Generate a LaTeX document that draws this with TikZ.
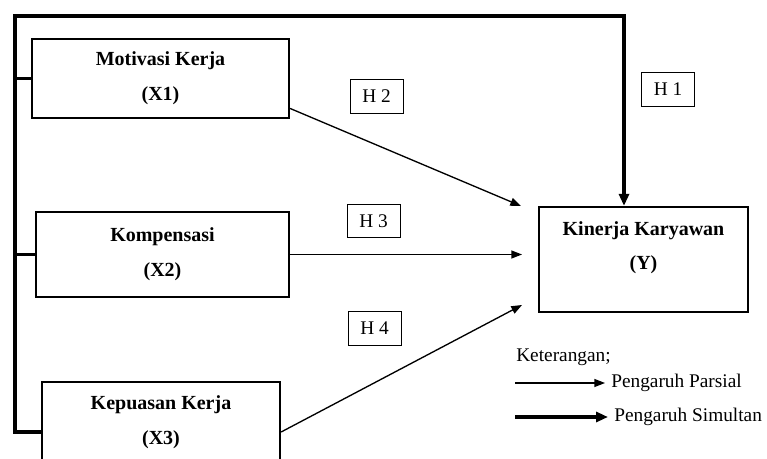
\documentclass[tikz,border=0pt]{standalone}
\usepackage{fontspec}
\setmainfont{Liberation Serif}
\usetikzlibrary{arrows.meta}

\begin{document}
\begin{tikzpicture}[x=0.75pt, y=-0.75pt,
    varbox/.style={draw, line width=1.7pt, align=center, inner sep=0pt,
      font=\fontsize{15}{26}\selectfont\bfseries},
    hbox/.style={draw, line width=0.7pt, minimum width=39.75pt,
      minimum height=25pt, inner sep=0pt, font=\fontsize{14.5}{16}\selectfont},
    legtext/.style={anchor=west, inner sep=4.5pt, font=\fontsize{14.5}{16}\selectfont},
    parsial/.style={line width=1pt, -{Triangle[length=8pt,width=6pt]}},
    simultan/.style={line width=2.4pt, -{Triangle[length=9pt,width=7.5pt]}}]
      \useasboundingbox (0,0) rectangle (767,459);

      % variables
      \node[varbox, minimum width=192.75pt, minimum height=59.25pt] (x1) at (160.5,78.5) {Motivasi Kerja\\(X1)};
      \node[varbox, minimum width=189.75pt, minimum height=63.75pt] (x2) at (162.5,254.5) {Kompensasi\\(X2)};
      \node[varbox, minimum width=178.5pt, minimum height=60pt] (x3) at (161,422) {Kepuasan Kerja\\(X3)};
      \node[varbox, minimum width=156.75pt, minimum height=78.75pt] (y) at (643.5,259.5) {Kinerja Karyawan\\(Y)\\[-5pt]\mbox{}};

      % hypotheses
      \foreach \n/\x/\y in {1/668/89.5, 2/376.5/96.5, 3/373.5/221, 4/374.5/328.5}{
        \node[hbox] (h\n) at (\x,\y) {H \n};
      }

      % partial arrows
      \coordinate (t1) at (521,206);
      \coordinate (t2) at (522,254.5);
      \coordinate (t3) at (522,305);
      \draw[parsial] ([yshift=8pt]x1.south east) -- (t1);
      \draw[parsial] (x2.east) -- (t2);
      \draw[parsial] ([yshift=-7.5pt]x3.east) -- (t3);

      % simultaneous arrow
      \coordinate (corner) at (15,16);
      \coordinate (foot) at (15,432);
      \coordinate (bend) at (624,16);
      \draw[simultan] ([yshift=-7.5pt]x3.west) -- (foot) -- (corner) -- (bend) -- (bend |- y.north);
      \draw[line width=2.4pt] (x1.west) -- (x1.west -| corner);
      \draw[line width=2.4pt] (x2.west) -- (x2.west -| corner);

      % legend
      \node[legtext] (ket) at (510,357) {Keterangan;};
      \node[legtext] (pars) at (605,383) {Pengaruh Parsial};
      \node[legtext] (simu) at (608,417) {Pengaruh Simultan};
      \coordinate (p0) at (515,383);
      \coordinate (s0) at (515,417);
      \draw[parsial] (p0) -- (pars.west);
      \draw[simultan] (s0) -- (simu.west);
    \end{tikzpicture}
\end{document}
